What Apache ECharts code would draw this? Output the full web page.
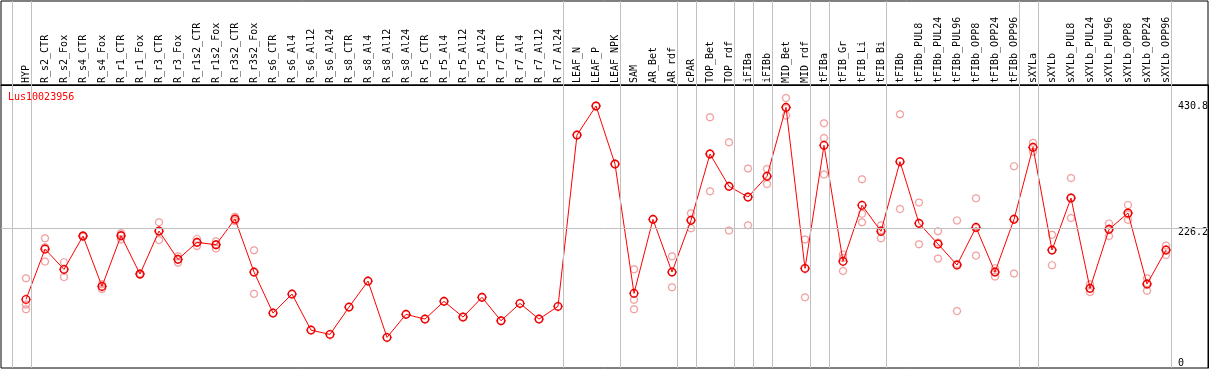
<!DOCTYPE html>
<html>
<head>
<meta charset="utf-8">
<script src="https://cdn.jsdelivr.net/npm/echarts@6/dist/echarts.min.js"></script>
<style>html,body{margin:0;padding:0;background:#fff}#c{width:1209px;height:370px}</style>
</head>
<body>
<div id="c"></div>
<script>
const categories = ["HYP","R_s2_CTR","R_s2_Fox","R_s4_CTR","R_s4_Fox","R_r1_CTR","R_r1_Fox","R_r3_CTR","R_r3_Fox","R_r1s2_CTR","R_r1s2_Fox","R_r3s2_CTR","R_r3s2_Fox","R_s6_CTR","R_s6_Al4","R_s6_Al12","R_s6_Al24","R_s8_CTR","R_s8_Al4","R_s8_Al12","R_s8_Al24","R_r5_CTR","R_r5_Al4","R_r5_Al12","R_r5_Al24","R_r7_CTR","R_r7_Al4","R_r7_Al12","R_r7_Al24","LEAF_N","LEAF_P","LEAF_NPK","SAM","AR_Bet","AR_rdf","cPAR","TOP_Bet","TOP_rdf","iFIBa","iFIBb","MID_Bet","MID_rdf","tFIBa","tFIB_Gr","tFIB_Li","tFIB_Bi","tFIBb","tFIBb_PUL8","tFIBb_PUL24","tFIBb_PUL96","tFIBb_OPP8","tFIBb_OPP24","tFIBb_OPP96","sXYLa","sXYLb","sXYLb_PUL8","sXYLb_PUL24","sXYLb_PUL96","sXYLb_OPP8","sXYLb_OPP24","sXYLb_OPP96"];
const means = [106.6,191.0,156.9,212.8,128.4,213.3,149.1,221.2,173.7,202.2,198.2,241.3,152.4,83.6,115.5,55.1,47.9,93.7,137.3,42.9,81.5,73.6,103.3,77.0,110.0,70.8,99.9,73.6,94.9,382.2,430.8,333.5,116.7,240.8,152.4,239.1,350.3,296.1,278.2,312.9,428.6,158.6,364.9,170.4,264.3,220.7,337.5,234.1,199.4,164.2,227.4,152.4,240.8,361.5,189.3,276.5,125.1,224.0,251.4,132.3,189.3];
const replicates = [
 [142,98,90],[209,170,194],[169,144,157],[213,212,214],[128,124,132],[218,207,215],[149,148,150],[236,206,221],[174,168,179],[208,196,202],
 [192,199,204],[241,238,245],[189,116,152],[83.6],[115.5],[55.1],[47.9],[93.7],[137.3],[42.9],
 [81.5],[73.6],[103.3],[77.0],[110.0],[70.8],[99.9],[73.6],[94.9],[382.2],
 [430.8],[333.5],[157,106,90],[241],[179,127,152],[251,226,240],[412,288,351],[370,222,296],[326,231,278],[325,300,314],
 [444,415,427],[207,110,159],[402,377,316],[182,176,154],[308,250,236],[231,223,209],[417,258,338],[269,199,234],[221,175,202],[239,87,166],
 [276,180,226],[159,145,153],[330,150,242],[369,354,362],[215,164,189],[310,243,277],[132,119,125],[234,213,225],[265,240,249],[142,121,134],
 [197,181,190]
];
const groupEnds = [-1,0,28,31,34,35,37,38,39,41,42,45,52,53,60];
const yTicks = [0,226.2,430.8];
const refLine = 226.2;
const geneName = "Lus10023956";

const xMin = -25/19, xMax = 1182/19;
const FONT = "DejaVu Sans Mono";
const sym = 'path://M0,-5L0,-4M0,4L0,5M-5,0L-4,0M4,0L5,0M4,0C4,2.21 2.21,4 0,4C-2.21,4 -4,2.21 -4,0C-4,-2.21 -2.21,-4 0,-4C2.21,-4 4,-2.21 4,0Z';

const meanData = means.map((v,i)=>[i,v]);
const repData = [];
replicates.forEach((arr,i)=>arr.forEach(v=>repData.push([i,v])));
const sepLines = groupEnds.map(g=>({xAxis: g + 0.25}));

const chart = echarts.init(document.getElementById('c'), null, {renderer:'canvas'});
chart.setOption({
  animation: false,
  backgroundColor: '#fff',
  title: {text: geneName, left: 8, top: 92, padding: 0,
    textStyle: {color: '#ff0000', fontSize: 10, fontWeight: 'normal', fontFamily: FONT}},
  grid: [
    {left: 1, right: 1, top: 1, height: 84, show: true, borderColor: '#000', borderWidth: 1, backgroundColor: 'transparent', outerBoundsMode: 'none', containLabel: false},
    {left: 1, right: 1, top: 85, bottom: 2, show: true, borderColor: '#000', borderWidth: 1, backgroundColor: 'transparent', outerBoundsMode: 'none', containLabel: false}
  ],
  xAxis: [
    {type: 'value', gridIndex: 1, min: xMin, max: xMax, position: 'top',
     axisLine: {show: true, onZero: false, lineStyle: {color: '#000'}}, axisTick: {show: false},
     splitLine: {show: false},
     axisLabel: {customValues: categories.map((c,i)=>i), rotate: -90, margin: 2,
       formatter: v => categories[Math.round(v)] || '',
       fontFamily: FONT, fontSize: 10, color: '#000'}},
    {type: 'value', gridIndex: 0, min: xMin, max: xMax, show: false}
  ],
  yAxis: [
    {type: 'value', gridIndex: 1, min: -8.4, max: 466, position: 'right',
     axisLine: {show: true, onZero: false, lineStyle: {color: '#000'}}, axisTick: {show: false},
     splitLine: {show: false},
     axisLabel: {customValues: yTicks, inside: true, margin: 30, align: 'left', fontFamily: FONT, fontSize: 10, color: '#000',
       formatter: v => (Math.abs(v - refLine) < 1e-6 ? '{t|' + v + '}' : '{m|' + v + '}'),
       rich: {t: {padding: [9,0,0,0], fontFamily: FONT, fontSize: 10, color: '#000'},
              m: {fontFamily: FONT, fontSize: 10, color: '#000'}}}},
    {type: 'value', gridIndex: 0, min: 0, max: 1, show: false}
  ],
  series: [
    {type: 'line', xAxisIndex: 1, yAxisIndex: 1, data: [[0,-5]], symbol: 'none', lineStyle: {width: 0}, silent: true,
     markLine: {silent: true, symbol: 'none', label: {show: false}, animation: false,
       lineStyle: {color: '#c0c0c0', width: 1, type: 'solid'}, data: sepLines}},
    {type: 'line', xAxisIndex: 0, yAxisIndex: 0, data: [[0,-50]], symbol: 'none', lineStyle: {width: 0}, silent: true, z: 1,
     markLine: {silent: true, symbol: 'none', label: {show: false}, animation: false,
       lineStyle: {color: '#c0c0c0', width: 1, type: 'solid'}, data: sepLines.concat([{yAxis: refLine}])}},
    {type: 'scatter', xAxisIndex: 0, yAxisIndex: 0, data: repData, symbol: sym, symbolSize: 8.5, z: 3,
     itemStyle: {color: 'rgba(0,0,0,0)', borderColor: '#ec8a8a', borderWidth: 1.2}},
    {type: 'line', xAxisIndex: 0, yAxisIndex: 0, data: meanData, symbol: sym, symbolSize: 9.5, showAllSymbol: true, z: 4,
     lineStyle: {color: '#ff0000', width: 1},
     itemStyle: {color: 'rgba(0,0,0,0)', borderColor: '#ee0000', borderWidth: 1.4}}
  ]
});
</script>
</body>
</html>
